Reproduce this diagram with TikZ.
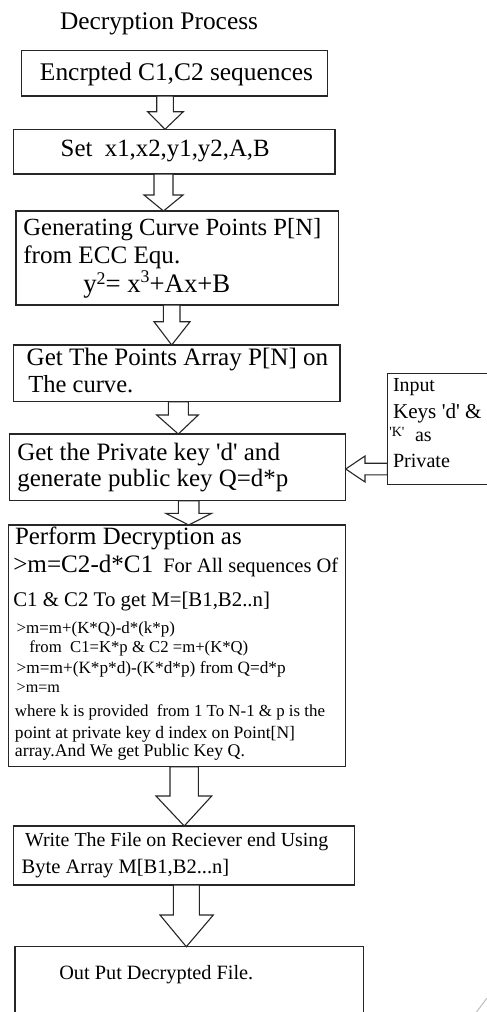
\documentclass[tikz,border=0pt]{standalone}
\usepackage{fontspec}
\setmainfont{Liberation Serif}[Ligatures=TeXOff]
\newcommand\blockdown[8]{\draw[arrowbox] (#1.south -| #3,0) -- (#3,#8) -- (#5,#8) -- (#2.north -| #7,0) -- (#6,#8) -- (#4,#8) -- (#1.south -| #4,0) -- cycle;}
\newcommand\fw[2]{\resizebox{#1pt}{!}{#2}}
\begin{document}
\begin{tikzpicture}[x=1pt,y=-1pt,
  box/.style={draw=black!85, line width=1.1pt, rectangle, inner sep=0pt, outer sep=0pt, anchor=north west},
  arrowbox/.style={draw=black!85, fill=white, line width=1.1pt, line join=miter},
  txt/.style={anchor=base west, inner sep=0pt, outer sep=0pt, font=\fontsize{24}{28}\selectfont}]
\useasboundingbox (0,0) rectangle (487,1012);
% boxes
\node[box, minimum width=305.6pt, minimum height=45.3pt] (b1) at (21.7,50.7) {};
\node[box, minimum width=321.7pt, minimum height=44.7pt] (b2) at (13.3,129.3) {};
\node[box, minimum width=322.3pt, minimum height=94pt] (b3) at (16,211) {};
\node[box, minimum width=326.7pt, minimum height=56.7pt] (b4) at (13.3,345) {};
\node[box, minimum width=336.4pt, minimum height=66.7pt] (b5) at (9.3,434) {};
\node[box, minimum width=110pt, minimum height=111pt] (side) at (387.3,373.3) {};
\node[box, minimum width=337.4pt, minimum height=241.7pt] (b6) at (8.3,525) {};
\node[box, minimum width=341pt, minimum height=59pt] (b7) at (13.3,826) {};
\node[box, minimum width=348.3pt, minimum height=80pt] (b8) at (15,946.7) {};
% block arrows
\blockdown{b1}{b2}{156.7}{173.3}{147.7}{183.3}{165}{111.7}
\blockdown{b2}{b3}{154}{173}{144}{183}{163.5}{195}
\blockdown{b3}{b4}{163.3}{180}{154}{190}{171.7}{321.7}
\blockdown{b4}{b5}{168.3}{188.3}{156.7}{198.3}{178.3}{415}
\blockdown{b5}{b6}{178.3}{199}{165.7}{211.7}{188.7}{513.3}
\blockdown{b6}{b7}{170}{198.3}{156}{211.7}{184.2}{796}
\blockdown{b7}{b8}{173.3}{199.3}{160}{213.3}{186.3}{915}
\draw[arrowbox] (side.west |- 0,463.2) -- (365,463.2) -- (365,456) -- (b5.east |- 0,469) -- (365,482) -- (365,474.8) -- (side.west |- 0,474.8) -- cycle;
% texts
\node[txt] (title) at (60,29.3) {\fw{198}{Decryption Process}};
\node[txt] (t1) at (40,80) {\fw{273}{Encrpted C1,C2 sequences}};
\node[txt] (t2) at (60.7,156.7) {\fw{209}{Set\ \ x1,x2,y1,y2,A,B}};
\node[txt] (t3a) at (23.3,235) {\fw{298}{Generating Curve Points P[N]}};
\node[txt] (t3b) at (23.3,263.3) {\fw{157}{from ECC Equ.}};
\node[txt] (t3c) at (83.3,292.5) {\fw{147}{y\raisebox{7pt}{\fontsize{16}{16}\selectfont 2}= x\raisebox{9pt}{\fontsize{16}{16}\selectfont 3}+Ax+B}};
\node[txt] (t4a) at (26.7,365) {\fw{301.5}{Get The Points Array P[N] on}};
\node[txt] (t4b) at (28.3,392.7) {\fw{105}{The curve.}};
\node[txt] (s1) at (393,391.7) {\fw{42}{Input}};
\node[txt] (s2) at (393,418.3) {\fw{88.7}{Keys 'd' \&}};
\node[txt, font=\fontsize{14}{16}\selectfont] (s3a) at (389.3,436.5) {'K'};
\node[txt, font=\fontsize{20}{24}\selectfont] (s3b) at (415,441.7) {as};
\node[txt] (s4) at (393,467.3) {\fw{57}{Private}};
\node[txt] (t5a) at (17.3,460) {\fw{262.7}{Get the Private key 'd' and}};
\node[txt] (t5b) at (17.3,486.7) {\fw{271}{generate public key Q=d*p}};
\node[txt] (t6a) at (15,544) {\fw{226.7}{Perform Decryption as}};
\node[txt] (t6b) at (13.3,572.3) {\fw{140}{>m=C2-d*C1}};
\node[txt] (t6c) at (163.3,572.3) {\fw{175}{For All sequences Of}};
\node[txt] (t6d) at (13.3,606.7) {\fw{256.7}{C1 \& C2 To get M=[B1,B2..n]}};
\node[txt] (t6e) at (16.7,633.3) {\fw{158.3}{>m=m+(K*Q)-d*(k*p)}};
\node[txt] (t6f) at (29.3,652.7) {\fw{219}{from\ \ C1=K*p \& C2 =m+(K*Q)}};
\node[txt] (t6g) at (16.7,673.3) {\fw{269}{>m=m+(K*p*d)-(K*d*p) from Q=d*p}};
\node[txt] (t6h) at (16.7,692.7) {\fw{43.3}{>m=m}};
\node[txt] (t6i) at (15,716) {\fw{310}{where k is provided\ \ from 1 To N-1 \& p is the}};
\node[txt] (t6j) at (15,738.3) {\fw{280}{point at private key d index on Point[N]}};
\node[txt] (t6k) at (15,756.7) {\fw{230}{array.And We get Public Key Q.}};
\node[txt] (t7a) at (25,846.7) {\fw{303.3}{Write The File on Reciever end Using}};
\node[txt] (t7b) at (21.7,873.3) {\fw{207.6}{Byte Array M[B1,B2...n]}};
\node[txt] (t8) at (59.3,979.3) {\fw{194}{Out Put Decrypted File.}};
% faint page mark
\draw[black!25, line width=1pt] (487,998) -- (476.5,1012);
\end{tikzpicture}
\end{document}
